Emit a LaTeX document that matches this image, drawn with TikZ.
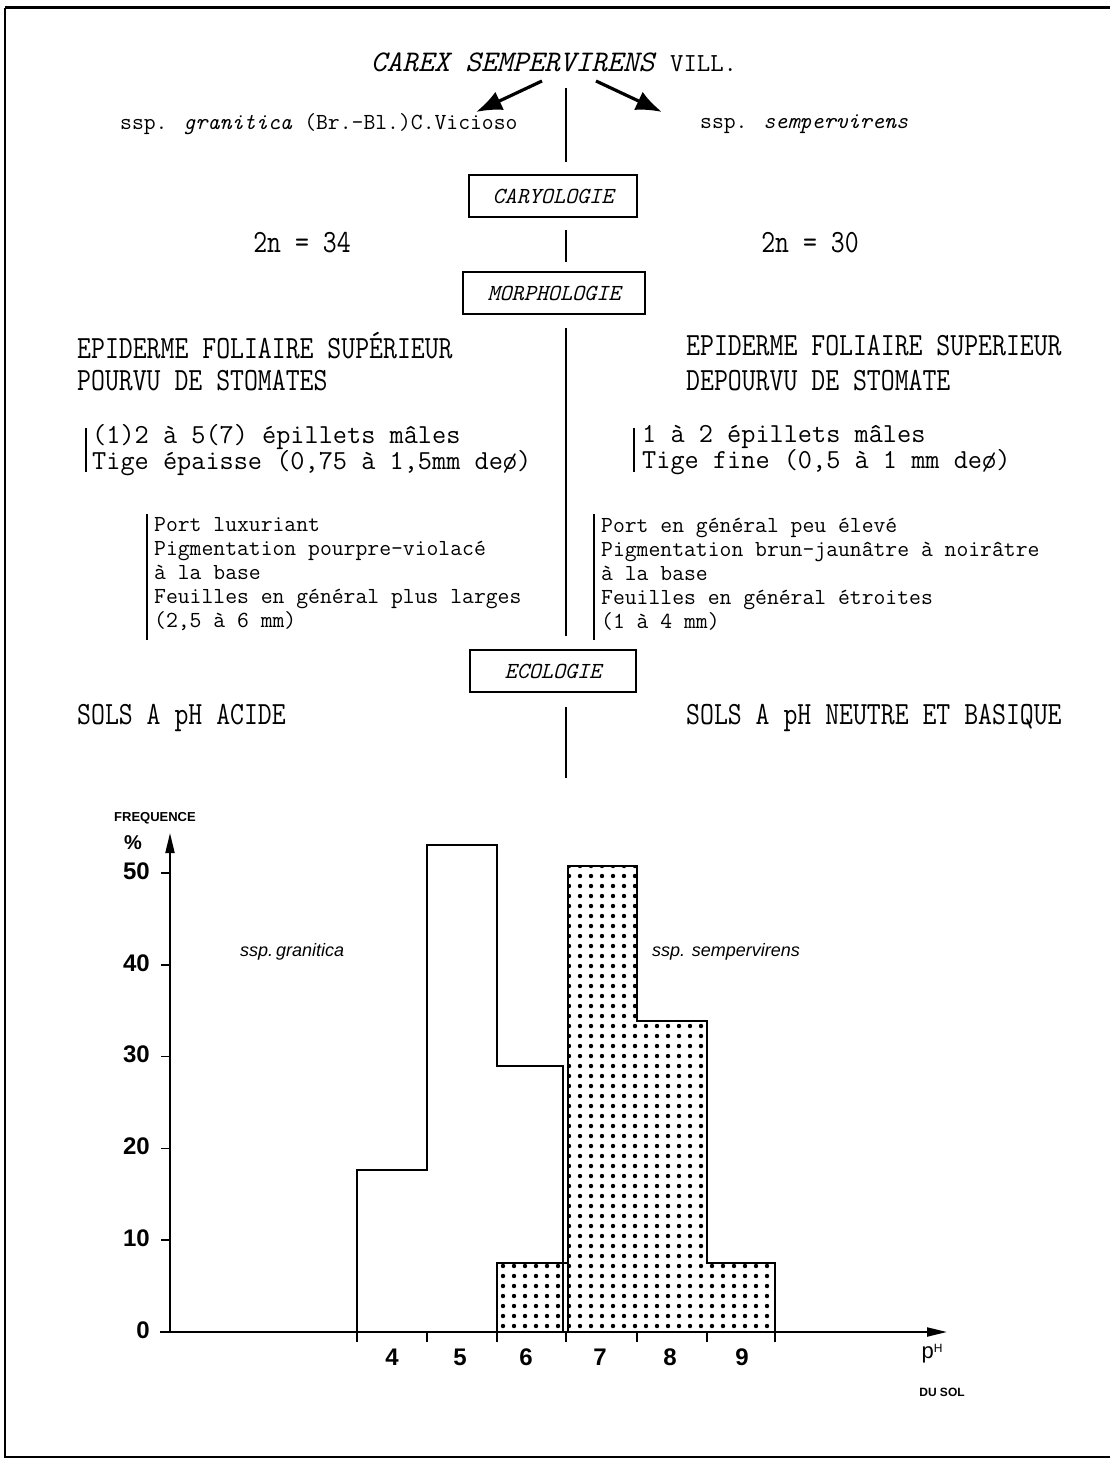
\documentclass[tikz,border=0pt]{standalone}
\usepackage{fontspec}
\usepackage{graphicx}
\newfontfamily\chartfont{Liberation Sans}
\usetikzlibrary{arrows.meta}
\begin{document}
\begin{tikzpicture}[x=1pt,y=-1pt,
  bigtt/.style={font=\ttfamily\fontsize{27}{27}\selectfont, inner sep=0pt, anchor=west},
  midtt/.style={font=\ttfamily\fontsize{27.5}{23}\selectfont, inner sep=0pt, anchor=west, align=left},
  smalltt/.style={font=\ttfamily\fontsize{23}{23}\selectfont, inner sep=0pt, anchor=west},
  blocktt/.style={font=\ttfamily\fontsize{23}{24}\selectfont, inner sep=0pt, anchor=west, align=left},
  topicbox/.style={draw, line width=1.8pt, font=\ttfamily\itshape\fontsize{23}{23}\selectfont, inner sep=0pt},
  divider/.style={line width=1.6pt},
  bracket/.style={line width=1.3pt},
  splitarrow/.style={line width=3.2pt, -{Latex[length=26pt,width=20pt]}},
  chartlbl/.style={font=\chartfont\bfseries\fontsize{24}{24}\selectfont, inner sep=0pt},
  histo/.style={line width=1.8pt, line join=miter},
  axisline/.style={line width=2pt, -{Triangle[length=20pt,width=9pt]}},
]
\useasboundingbox (0,0) rectangle (1110,1461);
\fill[white] (0,0) rectangle (1110,1461);
% frame
\draw[line width=3pt] (5,8) -- (1110,8);
\draw[line width=2pt] (5,8) -- (5,1457) -- (1110,1457);

% title and subspecies
\node[inner sep=0pt] (title) at (554,62) {\ttfamily\fontsize{30}{30}\selectfont\itshape CAREX SEMPERVIRENS \upshape\fontsize{26}{26}\selectfont VILL.};
\node[smalltt] (sspg) at (120,124) {ssp. \textit{granitica} (Br.-Bl.)C.Vicioso};
\node[smalltt] (ssps) at (700,124) {ssp. \textit{sempervirens}};
\coordinate (al0) at (542,81); \coordinate (al1) at (476,112);
\coordinate (ar0) at (596,81); \coordinate (ar1) at (662,112);
\draw[splitarrow] (al0) -- (al1);
\draw[splitarrow] (ar0) -- (ar1);

% dividers
\coordinate (d1a) at (566,88);  \coordinate (d1b) at (566,162);
\coordinate (d2a) at (566,230); \coordinate (d2b) at (566,262);
\coordinate (d3a) at (566,328); \coordinate (d3b) at (566,636);
\coordinate (d4a) at (566,707); \coordinate (d4b) at (566,778);
\draw[divider] (d1a) -- (d1b);
\draw[divider] (d2a) -- (d2b);
\draw[divider] (d3a) -- (d3b);
\draw[divider] (d4a) -- (d4b);

% topic boxes
\node[topicbox, minimum width=168pt, minimum height=42pt] (caryo) at (553,196) {CARYOLOGIE};
\node[topicbox, minimum width=182pt, minimum height=42pt] (morpho) at (554,293) {MORPHOLOGIE};
\node[topicbox, minimum width=166pt, minimum height=42pt] (ecolo) at (553,671) {ECOLOGIE};

% caryology
\node[bigtt, anchor=center] (ng) at (302,243) {\scalebox{1}[1.2]{2n = 34}};
\node[bigtt, anchor=center] (ns) at (810,243) {\scalebox{1}[1.2]{2n = 30}};

% morphology
\node[bigtt] (epg) at (77,346) {\scalebox{1}[1.2]{EPIDERME FOLIAIRE SUPÉRIEUR}};
\node[bigtt] (stg) at (77,381) {\scalebox{1}[1.2]{POURVU DE STOMATES}};
\node[bigtt] (eps) at (686,346) {\scalebox{1}[1.2]{EPIDERME FOLIAIRE SUPERIEUR}};
\node[bigtt] (sts) at (686,381) {\scalebox{1}[1.2]{DEPOURVU DE STOMATE}};

\coordinate (bg1a) at (86,428); \coordinate (bg1b) at (86,472);
\draw[bracket] (bg1a) -- (bg1b);
\node[midtt] (epig) at (92,450) {(1)2 à 5(7) épillets mâles\\Tige épaisse (0,75 à 1,5mm de\o)};
\coordinate (bs1a) at (634,428); \coordinate (bs1b) at (634,472);
\draw[bracket] (bs1a) -- (bs1b);
\node[midtt] (epis) at (642,450) {1 à 2 épillets mâles\\Tige fine (0,5 à 1 mm de\o)};

\coordinate (bg2a) at (147,514); \coordinate (bg2b) at (147,640);
\draw[bracket] (bg2a) -- (bg2b);
\node[blocktt] (portg) at (154,574) {Port luxuriant\\Pigmentation pourpre-violacé\\à la base\\Feuilles en général plus larges\\(2,5 à 6 mm)};
\coordinate (bs2a) at (594,514); \coordinate (bs2b) at (594,640);
\draw[bracket] (bs2a) -- (bs2b);
\node[blocktt] (ports) at (601,574) {Port en général peu élevé\\Pigmentation brun-jaunâtre à noirâtre\\à la base\\Feuilles en général étroites\\(1 à 4 mm)};

% ecology
\node[bigtt] (solg) at (77,718) {\scalebox{1}[1.2]{SOLS A pH ACIDE}};
\node[bigtt] (sols) at (686,718) {\scalebox{1}[1.2]{SOLS A pH NEUTRE ET BASIQUE}};

% ---------- chart ----------
% stippled area
\begin{scope}
\clip (497,1332) -- (497,1263) -- (568,1263) -- (568,866) -- (637,866) -- (637,1021)
      -- (707,1021) -- (707,1263) -- (775,1263) -- (775,1332) -- cycle;
\foreach \r in {0,...,46} {
  \foreach \c in {0,...,25} {
    \fill (503+\c*11, 1326-\r*10) circle (2.2pt);
  }
}
\end{scope}
% granitica outline
\draw[histo] (357,1332) -- (357,1170) -- (427,1170) -- (427,845) -- (497,845)
   -- (497,1066) -- (563,1066) -- (563,1332);
% sempervirens outline
\draw[histo] (497,1332) -- (497,1263) -- (568,1263);
\draw[histo] (568,1332) -- (568,866) -- (637,866) -- (637,1021) -- (707,1021)
   -- (707,1263) -- (775,1263) -- (775,1332);

% axes
\coordinate (o) at (170,1332);
\coordinate (ytip) at (170,833);
\coordinate (xstart) at (160,1332);
\coordinate (xtip) at (947,1332);
\draw[axisline] (o) -- (ytip);
\draw[axisline] (xstart) -- (xtip);

\foreach \v in {0,10,20,30,40,50} {
  \draw[line width=1.6pt] (161,{1332-\v*9.18}) -- (170,{1332-\v*9.18});
  \node[chartlbl, anchor=east] (yl\v) at (150,{1330-\v*9.18}) {\v};
}
\foreach \xx in {357,427,497,566,637,707,775} {
  \draw[line width=1.6pt] (\xx,1332) -- (\xx,1342);
}
\node[chartlbl] (x4) at (392,1357) {4};
\node[chartlbl] (x5) at (460,1357) {5};
\node[chartlbl] (x6) at (526,1357) {6};
\node[chartlbl] (x7) at (600,1357) {7};
\node[chartlbl] (x8) at (670,1357) {8};
\node[chartlbl] (x9) at (742,1357) {9};

\node[chartlbl, font=\chartfont\bfseries\fontsize{13}{13}\selectfont] (freq) at (155,818) {FREQUENCE};
\node[chartlbl, font=\chartfont\bfseries\fontsize{20}{20}\selectfont] (pct) at (133,843) {\%};
\node[chartlbl, font=\chartfont\fontsize{22}{22}\selectfont] (ph) at (932,1354) {p\raisebox{6pt}{\fontsize{12}{12}\selectfont H}};
\node[chartlbl, font=\chartfont\bfseries\fontsize{12}{12}\selectfont] (dusol) at (942,1392) {DU SOL};

\node[inner sep=0pt, anchor=west, font=\chartfont\itshape\fontsize{18}{18}\selectfont] (lg) at (240,952) {ssp.\,granitica};
\node[inner sep=0pt, anchor=west, font=\chartfont\itshape\fontsize{18}{18}\selectfont] (ls) at (652,952) {ssp. sempervirens};
\end{tikzpicture}
\end{document}
